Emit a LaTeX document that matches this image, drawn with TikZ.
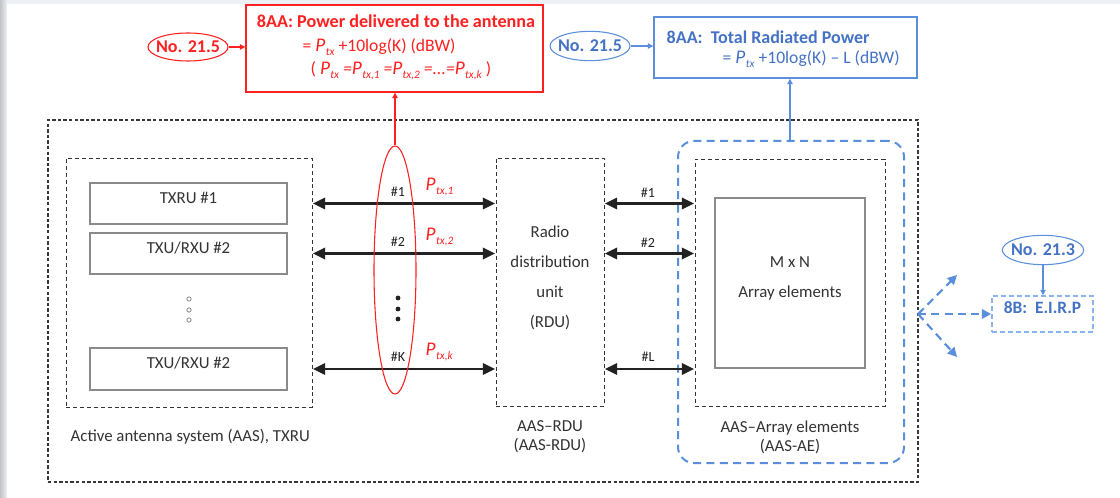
\documentclass[tikz,border=0pt]{standalone}
\usepackage{fontspec}
\setmainfont{Carlito}
\usetikzlibrary{shapes.geometric,arrows.meta,fit}
\definecolor{redc}{HTML}{FF2020}
\definecolor{bluet}{HTML}{4472C4}
\definecolor{blueb}{HTML}{5B8EDB}
\definecolor{bluel}{HTML}{8DB3EE}
\definecolor{inkc}{HTML}{222222}
\definecolor{txtc}{HTML}{333333}
\definecolor{grayb}{HTML}{8A8A8A}
\definecolor{bandc}{HTML}{EDF0F4}
% italic P with an italic subscript
\newcommand{\pwr}[1]{{\fontsize{14.5}{15}\selectfont\textit{P}}\kern0.3pt\raisebox{-0.45ex}{\fontsize{8.5}{8.5}\selectfont\textit{#1}}}
\begin{document}
\begin{tikzpicture}[x=0.75pt,y=-0.75pt,
  every node/.style={text=txtc,font=\fontsize{12.6}{14}\selectfont},
  outerbox/.style={draw=inkc!90,line width=1.7pt,dash pattern=on 2.6pt off 1.6pt,inner sep=0pt},
  dashbox/.style={draw=txtc,line width=0.6pt,dash pattern=on 3pt off 2.2pt,inner sep=0pt},
  unitbox/.style={draw=grayb,line width=1pt,inner sep=0pt},
  aasbox/.style={draw=blueb,line width=1.5pt,dash pattern=on 6pt off 4pt,rounded corners=12pt,inner sep=0pt},
  redframe/.style={draw=redc,line width=1.1pt,inner sep=0pt},
  blueframe/.style={draw=blueb,line width=1.1pt,inner sep=0pt},
  tag/.style={ellipse,draw,line width=0.8pt,inner sep=-3pt,font=\fontsize{13.5}{15}\selectfont\bfseries},
  bus/.style={{Triangle[length=9pt,width=8.5pt]}-{Triangle[length=9pt,width=8.5pt]},draw=inkc,line width=1.8pt,shorten <=0.5pt,shorten >=0.5pt},
  small/.style={font=\fontsize{10.5}{12}\selectfont,text=inkc},
  plab/.style={text=redc,font=\fontsize{14}{16}\selectfont,anchor=west},
  hdot/.style={circle,draw=grayb,line width=0.6pt,inner sep=0pt,minimum size=3.2pt},
  vdot/.style={circle,fill=inkc,inner sep=0pt,minimum size=3.6pt},
  beam/.style={draw=blueb,line width=1.6pt,dash pattern=on 6pt off 4pt,-{Triangle[length=7pt,width=7pt]}},
  lead/.style={line width=0.8pt,-{Triangle[length=4pt,width=4pt]}}
]
\useasboundingbox (0,0) rectangle (1120,498);
% page background
\fill[bandc] (0,0) rectangle (1120,498);
\shade[left color=black!18!bandc,right color=bandc] (0,0) rectangle (7,498);
\fill[white] (7,4) rectangle (1120,498);

% outer system frame
\node[outerbox,fit={(48,120) (918,482)}] (outer) {};

% TXRU group
\node[dashbox,fit={(66,158) (312,407)}] (txgrp) {};
\node[unitbox,fit={(90,183) (287,224)}] (txru1) {TXRU \#1};
\node[unitbox,fit={(90,233) (287,274)}] (txu2) {TXU/RXU \#2};
\node[unitbox,fit={(90,348) (287,390)}] (txu3) {TXU/RXU \#2};
\node[hdot] (h1) at (189,299) {};
\node[hdot] (h2) at (189,310) {};
\node[hdot] (h3) at (189,320) {};
\node[anchor=west] (txlabel) at (66,437) {Active antenna system (AAS), TXRU};

% radio distribution unit
\node[dashbox,fit={(496,158) (604,406)}] (rdu) {};
\node[align=center,font=\fontsize{12.6}{22.5}\selectfont] (rdutext) at (550,278) {Radio\\distribution\\unit\\(RDU)};
\node[align=center,font=\fontsize{12.6}{14.3}\selectfont] (rdulabel) at (550,437) {AAS--RDU\\(AAS-RDU)};

% array elements
\node[aasbox,fit={(678,141) (904,463)}] (aas) {};
\node[dashbox,fit={(695,159) (885,406)}] (aebox) {};
\node[unitbox,fit={(715,198) (865,368)}] (arr) {};
\node[align=center,font=\fontsize{12.6}{22.5}\selectfont] (arrtext) at (790,278) {M x N\\Array elements};
\node[align=center,font=\fontsize{12.6}{14.3}\selectfont] (aelabel) at (790,437) {AAS--Array elements\\(AAS-AE)};

% links TXRU -> RDU
\draw[bus] (txgrp.east |- txru1.center) -- (rdu.west |- txru1.center);
\draw[bus] (txgrp.east |- txu2.center) -- (rdu.west |- txu2.center);
\draw[bus] (txgrp.east |- txu3.center) -- (rdu.west |- txu3.center);
% links RDU -> array
\draw[bus] (rdu.east |- txru1.center) -- (aebox.west |- txru1.center);
\draw[bus] (rdu.east |- txu2.center) -- (aebox.west |- txu2.center);
\draw[bus] (rdu.east |- txu3.center) -- (aebox.west |- txu3.center);

% link labels
\node[small] (k1) at (398,192) {\#1};
\node[small] (k2) at (398,242) {\#2};
\node[small] (kk) at (398,357) {\#K};
\node[small] (l1) at (648,193) {\#1};
\node[small] (l2) at (648,243) {\#2};
\node[small] (ll) at (648,357) {\#L};
\node[vdot] (v1) at (398,298) {};
\node[vdot] (v2) at (398,309) {};
\node[vdot] (v3) at (398,319) {};
\node[plab] (p1) at (421,187) {\pwr{tx,1}};
\node[plab] (p2) at (421,237) {\pwr{tx,2}};
\node[plab] (pk) at (421,352) {\pwr{tx,k}};

% bundle of TXRU outputs
\node[ellipse,draw=redc,line width=0.8pt,minimum width=31.5pt,minimum height=186pt,inner sep=0pt] (bundle) at (395,270) {};

% power delivered to the antenna
\node[redframe,fit={(246,5) (543,92)}] (redbox) {};
\node[text=redc,font=\fontsize{13.6}{15}\selectfont\bfseries] (redtitle) at (396,21) {8AA: Power delivered to the antenna};
\node[text=redc,anchor=west,font=\fontsize{13.2}{14}\selectfont] (redl2) at (298,47) {= \pwr{tx} +10log(K) (dBW)};
\node[text=redc,anchor=west,font=\fontsize{13.2}{14}\selectfont] (redl3) at (306,71) {(\ \pwr{tx} \textit{=}\pwr{tx,1} \textit{=}\pwr{tx,2} \textit{=...=}\pwr{tx,k} )};
\node[tag,draw=redc,text=redc,minimum width=60pt,minimum height=21pt] (redno) at (188,47) {No. 21.5};
\draw[lead,redc] (redno.east) -- (redbox.west |- redno.east);
\draw[lead,redc] (bundle.north) -- (bundle.north |- redbox.south);

% total radiated power
\node[blueframe,fit={(654,17) (917,78)}] (bluebox) {};
\node[text=bluet,anchor=west,font=\fontsize{13.5}{15}\selectfont\bfseries] (bluetitle) at (662,37) {8AA:\ \ Total Radiated Power};
\node[text=bluet,anchor=west,font=\fontsize{13.2}{14}\selectfont] (bluel2) at (718,59) {= \pwr{tx} +10log(K) -- L (dBW)};
\node[tag,draw=blueb,text=bluet,minimum width=60pt,minimum height=22pt] (blueno) at (590,46) {No. 21.5};
\draw[lead,blueb] (blueno.east) -- (bluebox.west |- blueno.east);
\draw[lead,blueb] (aas.north -| 790,0) -- (bluebox.south -| 790,0);

% EIRP
\node[draw=bluel,line width=1.2pt,dash pattern=on 3.5pt off 2.5pt,inner sep=0pt,fit={(992,296) (1093,332)},text=bluet,font=\fontsize{13}{14}\selectfont\bfseries] (eirp) {8B:\ \ E.I.R.P};
\node[tag,draw=blueb,text=bluet,minimum width=61pt,minimum height=22pt] (eirpno) at (1043,250) {No. 21.3};
\draw[lead,blueb] (eirpno.south) -- (eirpno.south |- eirp.north);
\coordinate (hub) at (918,314);
\coordinate (up) at (957,275);
\coordinate (down) at (957,357);
\draw[beam] (hub) -- (hub -| eirp.west);
\draw[beam] (hub) -- (up);
\draw[beam] (hub) -- (down);
\end{tikzpicture}
\end{document}
